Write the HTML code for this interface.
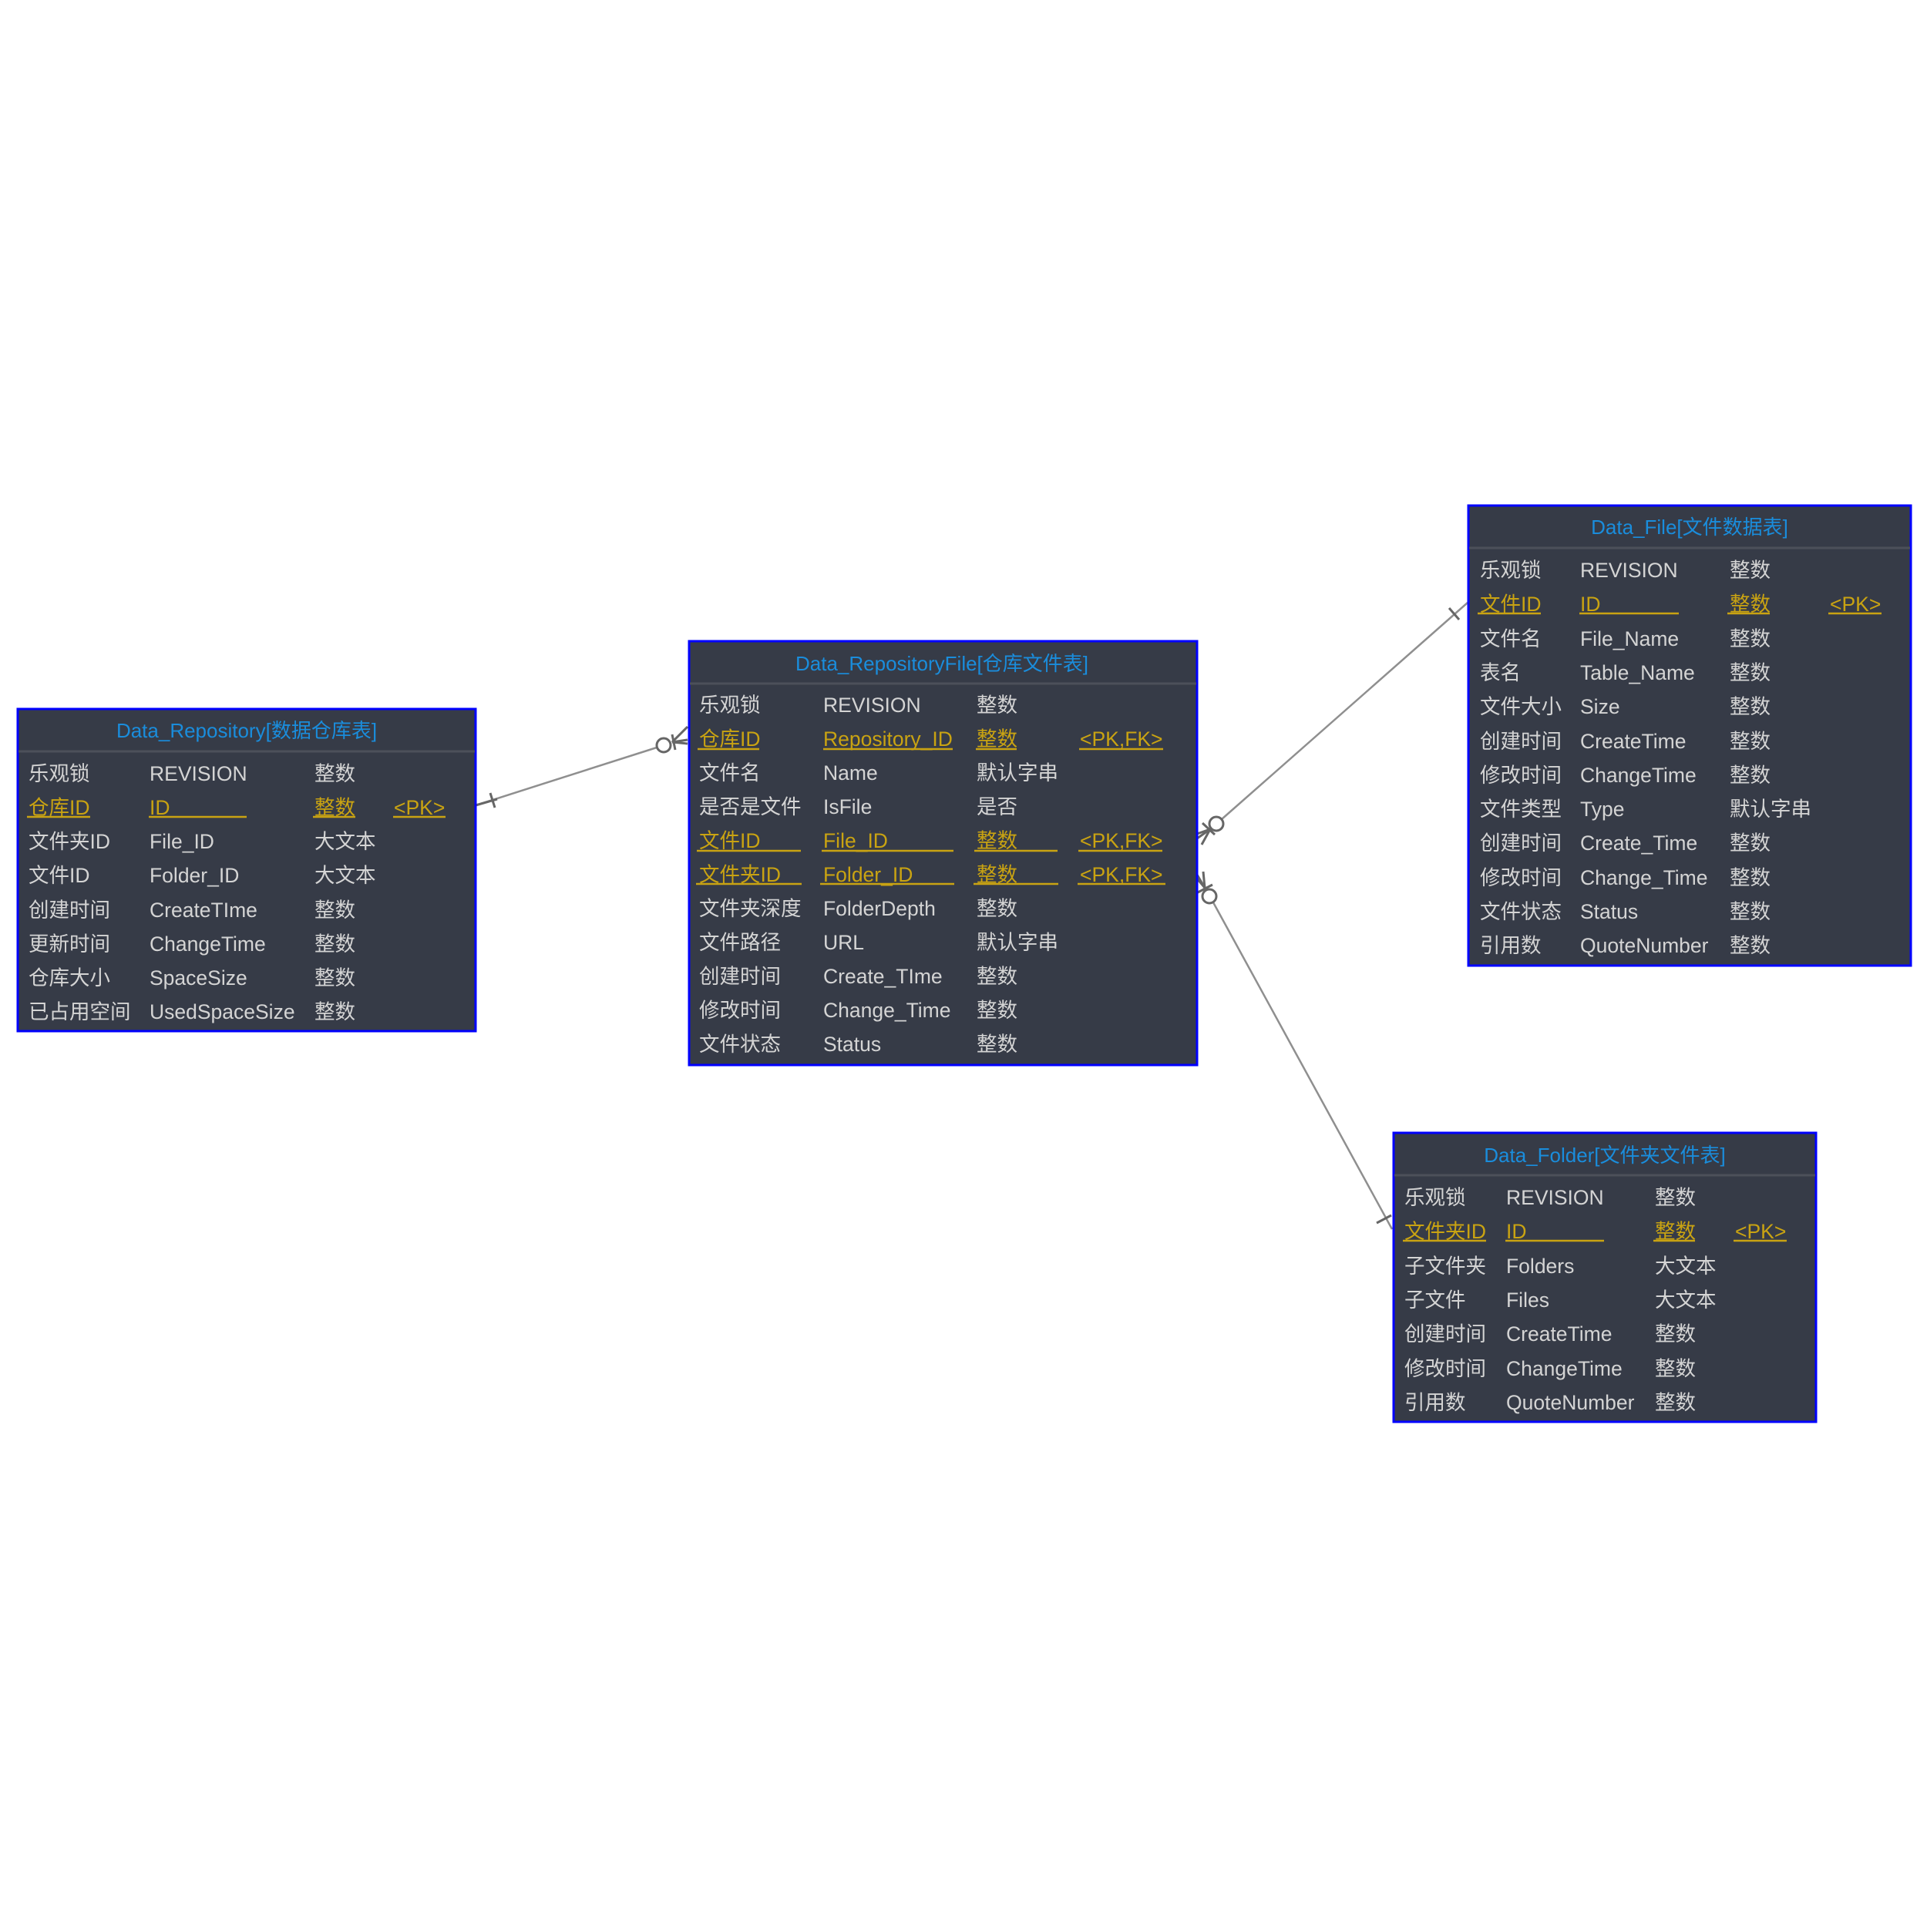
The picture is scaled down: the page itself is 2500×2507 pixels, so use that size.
<!DOCTYPE html>
<html><head><meta charset="utf-8"><style>
html,body{margin:0;padding:0;background:#fff;}
svg{display:block;}
text{font-family:"Liberation Sans","Noto Sans CJK SC",sans-serif;font-size:26.5px;}
.t{fill:#1a8ddc;font-size:26px;}
.w{fill:#d4d4d4;}
.y{fill:#c9a312;}
.u{stroke:#c9a312;stroke-width:2.5;}
.box{fill:#363b47;stroke:#0000ff;stroke-width:3;}
.sep{stroke:#4c505a;stroke-width:3;}
.c{stroke:#8f8f8f;stroke-width:2.5;fill:none;}
.k{stroke:#666;stroke-width:3;fill:none;}
</style></head><body>
<svg width="2500" height="2507" viewBox="0 0 2500 2507" xmlns="http://www.w3.org/2000/svg">
<rect width="2500" height="2507" fill="#fff"/>

<!-- connectors -->
<line class="c" x1="617" y1="1045" x2="852" y2="970"/>
<line class="k" x1="617" y1="1045" x2="645" y2="1037"/>
<line class="k" x1="636" y1="1029" x2="642" y2="1048"/>
<circle class="k" cx="861" cy="967" r="9"/>
<line class="k" x1="872" y1="963" x2="892" y2="943"/>
<line class="k" x1="872" y1="963" x2="892" y2="965"/>
<line class="k" x1="872" y1="963" x2="892" y2="960"/>
<line class="k" x1="872" y1="953" x2="876" y2="973"/>

<line class="c" x1="1585" y1="1063" x2="1904" y2="782"/>
<circle class="k" cx="1578" cy="1069" r="9"/>
<line class="k" x1="1570" y1="1076" x2="1553" y2="1082"/>
<line class="k" x1="1570" y1="1076" x2="1559" y2="1096"/>
<line class="k" x1="1570" y1="1076" x2="1553" y2="1088"/>
<line class="k" x1="1560" y1="1068" x2="1576" y2="1083"/>
<line class="k" x1="1880" y1="789" x2="1893" y2="804"/>

<line class="c" x1="1574" y1="1171" x2="1806" y2="1595"/>
<circle class="k" cx="1569" cy="1163" r="9"/>
<line class="k" x1="1563" y1="1152" x2="1553" y2="1140"/>
<line class="k" x1="1563" y1="1152" x2="1561" y2="1131"/>
<line class="k" x1="1563" y1="1152" x2="1553" y2="1135"/>
<line class="k" x1="1554" y1="1158" x2="1573" y2="1148"/>
<line class="k" x1="1786" y1="1587" x2="1805" y2="1577"/>

<!-- Data_Repository -->
<rect class="box" x="23" y="920" width="594" height="418"/>
<line class="sep" x1="24" y1="975" x2="616" y2="975"/>
<text class="t" x="320" y="957" text-anchor="middle">Data_Repository[数据仓库表]</text>
<g class="w">
<text x="37" y="1013">乐观锁</text><text x="194" y="1013">REVISION</text><text x="408" y="1013">整数</text>
<text x="37" y="1101">文件夹ID</text><text x="194" y="1101">File_ID</text><text x="408" y="1101">大文本</text>
<text x="37" y="1145">文件ID</text><text x="194" y="1145">Folder_ID</text><text x="408" y="1145">大文本</text>
<text x="37" y="1190">创建时间</text><text x="194" y="1190">CreateTIme</text><text x="408" y="1190">整数</text>
<text x="37" y="1234">更新时间</text><text x="194" y="1234">ChangeTime</text><text x="408" y="1234">整数</text>
<text x="37" y="1278">仓库大小</text><text x="194" y="1278">SpaceSize</text><text x="408" y="1278">整数</text>
<text x="37" y="1322">已占用空间</text><text x="194" y="1322">UsedSpaceSize</text><text x="408" y="1322">整数</text>
</g>
<g class="y"><text x="37" y="1057">仓库ID</text><text x="194" y="1057">ID</text><text x="408" y="1057">整数</text><text x="511" y="1057">&lt;PK&gt;</text></g>
<line class="u" x1="35" y1="1060" x2="117" y2="1060"/><line class="u" x1="193" y1="1060" x2="320" y2="1060"/><line class="u" x1="406" y1="1060" x2="461" y2="1060"/><line class="u" x1="510" y1="1060" x2="578" y2="1060"/>

<!-- Data_RepositoryFile -->
<rect class="box" x="894" y="832" width="659" height="550"/>
<line class="sep" x1="895" y1="887" x2="1552" y2="887"/>
<text class="t" x="1222" y="870" text-anchor="middle">Data_RepositoryFile[仓库文件表]</text>
<g class="w">
<text x="907" y="924">乐观锁</text><text x="1068" y="924">REVISION</text><text x="1267" y="924">整数</text>
<text x="907" y="1012">文件名</text><text x="1068" y="1012">Name</text><text x="1267" y="1012">默认字串</text>
<text x="907" y="1056">是否是文件</text><text x="1068" y="1056">IsFile</text><text x="1267" y="1056">是否</text>
<text x="907" y="1188">文件夹深度</text><text x="1068" y="1188">FolderDepth</text><text x="1267" y="1188">整数</text>
<text x="907" y="1232">文件路径</text><text x="1068" y="1232">URL</text><text x="1267" y="1232">默认字串</text>
<text x="907" y="1276">创建时间</text><text x="1068" y="1276">Create_TIme</text><text x="1267" y="1276">整数</text>
<text x="907" y="1320">修改时间</text><text x="1068" y="1320">Change_Time</text><text x="1267" y="1320">整数</text>
<text x="907" y="1364">文件状态</text><text x="1068" y="1364">Status</text><text x="1267" y="1364">整数</text>
</g>
<g class="y">
<text x="907" y="968">仓库ID</text><text x="1068" y="968">Repository_ID</text><text x="1267" y="968">整数</text><text x="1401" y="968">&lt;PK,FK&gt;</text>
<text x="907" y="1100">文件ID</text><text x="1068" y="1100">File_ID</text><text x="1267" y="1100">整数</text><text x="1401" y="1100">&lt;PK,FK&gt;</text>
<text x="907" y="1144">文件夹ID</text><text x="1068" y="1144">Folder_ID</text><text x="1267" y="1144">整数</text><text x="1401" y="1144">&lt;PK,FK&gt;</text>
</g>
<line class="u" x1="905" y1="972" x2="985" y2="972"/><line class="u" x1="1068" y1="972" x2="1236" y2="972"/><line class="u" x1="1266" y1="972" x2="1319" y2="972"/><line class="u" x1="1400" y1="972" x2="1509" y2="972"/>
<line class="u" x1="904" y1="1104" x2="1039" y2="1104"/><line class="u" x1="1066" y1="1104" x2="1237" y2="1104"/><line class="u" x1="1264" y1="1104" x2="1372" y2="1104"/><line class="u" x1="1399" y1="1104" x2="1508" y2="1104"/>
<line class="u" x1="903" y1="1147" x2="1040" y2="1147"/><line class="u" x1="1064" y1="1147" x2="1238" y2="1147"/><line class="u" x1="1263" y1="1147" x2="1373" y2="1147"/><line class="u" x1="1398" y1="1147" x2="1512" y2="1147"/>

<!-- Data_File -->
<rect class="box" x="1905" y="656" width="574" height="597"/>
<line class="sep" x1="1906" y1="711" x2="2478" y2="711"/>
<text class="t" x="2192" y="693" text-anchor="middle">Data_File[文件数据表]</text>
<g class="w">
<text x="1920" y="749">乐观锁</text><text x="2050" y="749">REVISION</text><text x="2244" y="749">整数</text>
<text x="1920" y="838">文件名</text><text x="2050" y="838">File_Name</text><text x="2244" y="838">整数</text>
<text x="1920" y="882">表名</text><text x="2050" y="882">Table_Name</text><text x="2244" y="882">整数</text>
<text x="1920" y="926">文件大小</text><text x="2050" y="926">Size</text><text x="2244" y="926">整数</text>
<text x="1920" y="971">创建时间</text><text x="2050" y="971">CreateTime</text><text x="2244" y="971">整数</text>
<text x="1920" y="1015">修改时间</text><text x="2050" y="1015">ChangeTime</text><text x="2244" y="1015">整数</text>
<text x="1920" y="1059">文件类型</text><text x="2050" y="1059">Type</text><text x="2244" y="1059">默认字串</text>
<text x="1920" y="1103">创建时间</text><text x="2050" y="1103">Create_Time</text><text x="2244" y="1103">整数</text>
<text x="1920" y="1148">修改时间</text><text x="2050" y="1148">Change_Time</text><text x="2244" y="1148">整数</text>
<text x="1920" y="1192">文件状态</text><text x="2050" y="1192">Status</text><text x="2244" y="1192">整数</text>
<text x="1920" y="1236">引用数</text><text x="2050" y="1236">QuoteNumber</text><text x="2244" y="1236">整数</text>
</g>
<g class="y"><text x="1920" y="793">文件ID</text><text x="2050" y="793">ID</text><text x="2244" y="793">整数</text><text x="2374" y="793">&lt;PK&gt;</text></g>
<line class="u" x1="1917" y1="796" x2="1999" y2="796"/><line class="u" x1="2049" y1="796" x2="2178" y2="796"/><line class="u" x1="2241" y1="796" x2="2296" y2="796"/><line class="u" x1="2372" y1="796" x2="2441" y2="796"/>

<!-- Data_Folder -->
<rect class="box" x="1808" y="1470" width="548" height="375"/>
<line class="sep" x1="1809" y1="1525" x2="2355" y2="1525"/>
<text class="t" x="2082" y="1508" text-anchor="middle">Data_Folder[文件夹文件表]</text>
<g class="w">
<text x="1822" y="1563">乐观锁</text><text x="1954" y="1563">REVISION</text><text x="2147" y="1563">整数</text>
<text x="1822" y="1652">子文件夹</text><text x="1954" y="1652">Folders</text><text x="2147" y="1652">大文本</text>
<text x="1822" y="1696">子文件</text><text x="1954" y="1696">Files</text><text x="2147" y="1696">大文本</text>
<text x="1822" y="1740">创建时间</text><text x="1954" y="1740">CreateTime</text><text x="2147" y="1740">整数</text>
<text x="1822" y="1785">修改时间</text><text x="1954" y="1785">ChangeTime</text><text x="2147" y="1785">整数</text>
<text x="1822" y="1829">引用数</text><text x="1954" y="1829">QuoteNumber</text><text x="2147" y="1829">整数</text>
</g>
<g class="y"><text x="1822" y="1607">文件夹ID</text><text x="1954" y="1607">ID</text><text x="2147" y="1607">整数</text><text x="2251" y="1607">&lt;PK&gt;</text></g>
<line class="u" x1="1820" y1="1610" x2="1928" y2="1610"/><line class="u" x1="1953" y1="1610" x2="2081" y2="1610"/><line class="u" x1="2145" y1="1610" x2="2199" y2="1610"/><line class="u" x1="2249" y1="1610" x2="2318" y2="1610"/>
</svg>
</body></html>
